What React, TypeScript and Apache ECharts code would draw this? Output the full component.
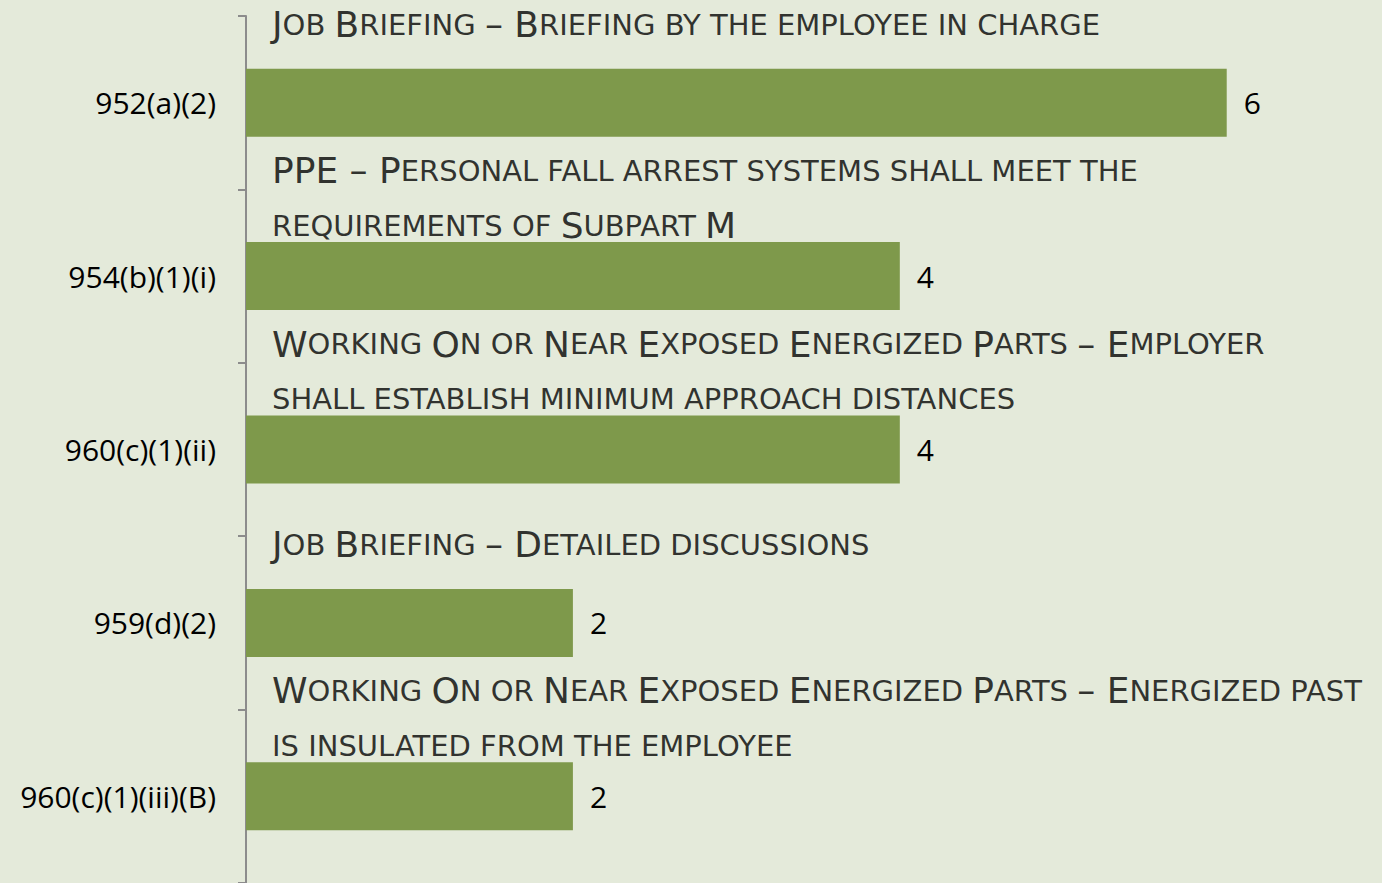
import React, { useEffect, useRef } from "react";
import * as echarts from "echarts";

const categories = ["952(a)(2)", "954(b)(1)(i)", "960(c)(1)(ii)", "959(d)(2)", "960(c)(1)(iii)(B)"];
const counts = [6, 4, 4, 2, 2];
const descriptions: string[][] = [
  ["Job Briefing – Briefing by the employee in charge"],
  ["PPE – Personal fall arrest systems shall meet the", "requirements of Subpart M"],
  ["Working On or Near Exposed Energized Parts – Employer", "shall establish minimum approach distances"],
  ["Job Briefing – Detailed discussions"],
  ["Working On or Near Exposed Energized Parts – Energized past", "is insulated from the employee"],
];
const xMax = 6.95;

const FONT = "Open Sans";
const NOTE_FONT = "DejaVu Sans";
const BG = "#e4eada";
const BAR = "#7e994b";

function smallCaps(line: string): string {
  let out = "";
  let cur = "";
  let buf = "";
  for (const ch of line) {
    let t: string;
    if (/[a-z]/.test(ch)) t = "s";
    else if (ch === " ") t = cur || "b";
    else t = "b";
    if (t !== cur && buf) {
      out += `{${cur}|${buf}}`;
      buf = "";
    }
    cur = t;
    buf += t === "s" ? ch.toUpperCase() : ch;
  }
  if (buf) out += `{${cur}|${buf}}`;
  return out;
}

export default function App() {
  const ref = useRef<HTMLDivElement>(null);
  useEffect(() => {
    if (!ref.current) return;
    const chart = echarts.init(ref.current, undefined, { renderer: "svg" });
    chart.setOption({
      animation: false,
      backgroundColor: BG,
      grid: { left: 246, top: 16, right: 0, height: 867.5, containLabel: false },
      xAxis: { type: "value", min: 0, max: xMax, show: false },
      yAxis: {
        type: "category",
        data: categories,
        inverse: true,
        axisLine: { show: true, lineStyle: { color: "#8c8c8c", width: 2 } },
        axisTick: { show: true, length: 8, lineStyle: { color: "#8c8c8c", width: 2 } },
        axisLabel: { color: "#000", fontFamily: FONT, fontSize: 30, margin: 30 },
      },
      series: [
        {
          type: "bar",
          data: counts,
          barWidth: 68,
          itemStyle: { color: BAR },
          label: {
            show: true,
            position: "right",
            distance: 17,
            color: "#000",
            fontFamily: FONT,
            fontSize: 30,
          },
        },
        {
          type: "scatter",
          data: categories.map((c) => [0, c]),
          symbolSize: 0,
          z: 5,
          silent: true,
          label: {
            show: true,
            position: "right",
            distance: 26,
            offset: [0, -78],
            color: "#000",
            formatter: (p: any) => descriptions[p.dataIndex].map(smallCaps).join("\n"),
            rich: {
              b: { fontFamily: NOTE_FONT, fontSize: 36, lineHeight: 55, color: "#000" },
              s: { fontFamily: NOTE_FONT, fontSize: 29, lineHeight: 55, color: "#000" },
            },
          },
        },
      ],
    });
    return () => chart.dispose();
  }, []);
  return (
    <div
      ref={ref}
      style={{ position: "fixed", left: 0, top: 0, width: 1382, height: 883 }}
    />
  );
}
